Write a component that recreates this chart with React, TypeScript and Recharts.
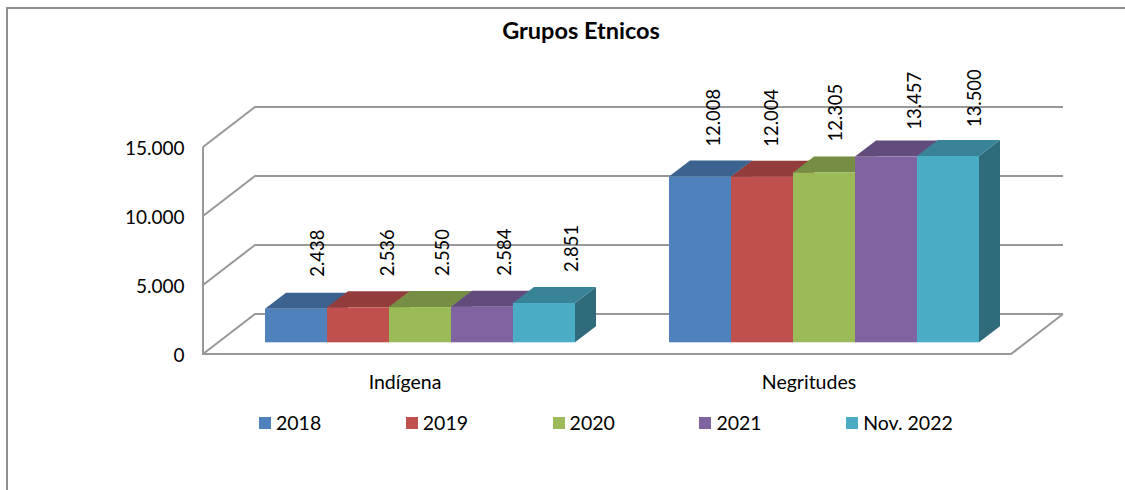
import React from "react";
import { BarChart, Bar, XAxis, YAxis, CartesianGrid, Legend, LabelList } from "recharts";

const categories = ["Indígena", "Negritudes"];
const values2018 = [2438, 12008];
const values2019 = [2536, 12004];
const values2020 = [2550, 12305];
const values2021 = [2584, 13457];
const valuesNov2022 = [2851, 13500];
const seriesNames = ["2018", "2019", "2020", "2021", "Nov. 2022"];
const seriesColors = ["#4F81BD", "#C0504D", "#9BBB59", "#8064A2", "#4BACC6"];
const seriesValues = [values2018, values2019, values2020, values2021, valuesNov2022];
const yTicks = [0, 5000, 10000, 15000];

const rows = categories.map((name, c) => {
  const row: Record<string, string | number> = { name };
  seriesNames.forEach((s, i) => { row[s] = seriesValues[i][c]; });
  return row;
});

// layout of the pseudo-3D projection
const FONT = "Lato, Carlito, sans-serif";
const DEPTH_X = 21;
const DEPTH_Y = 16;
const WALL_FRONT_DX = -15.5;
const WALL_FRONT_DY = 11.7;
const WALL_BACK_DX = 36.5;
const WALL_BACK_DY = -28.3;
const GRID = "#989898";
const LABEL_NUDGE = [[21, 12.5], [29, 9], [22, 11], [22, 28], [27, 26]];
const LABEL_LIFT = [[32, 30], [31, 30], [31, 31], [31, 27], [31, 29]];

const fmt = (v: number) => String(v).replace(/\B(?=(\d{3})+$)/g, ".");

function shade(hex: string, k: number) {
  const n = parseInt(hex.slice(1), 16);
  const c = [(n >> 16) & 255, (n >> 8) & 255, n & 255].map((v) => Math.round(v * k));
  return `rgb(${c[0]},${c[1]},${c[2]})`;
}

function Bar3D(props: any) {
  const { x, y, width, height, fill } = props;
  const r = x + width;
  const b = y + height;
  return (
    <g>
      <polygon points={`${r},${y} ${r + DEPTH_X},${y - DEPTH_Y} ${r + DEPTH_X},${b - DEPTH_Y} ${r},${b}`} fill={shade(fill, 0.62)} />
      <polygon points={`${x},${y} ${x + DEPTH_X},${y - DEPTH_Y} ${r + DEPTH_X},${y - DEPTH_Y} ${r},${y}`} fill={shade(fill, 0.76)} />
      <rect x={x} y={y} width={width} height={height} fill={fill} />
    </g>
  );
}

function WallLine(props: any) {
  const { x1, x2, y1, y, height } = props;
  const isFloor = Math.abs(y1 - (y + height)) < 1;
  const fx = x1 + WALL_FRONT_DX;
  const fy = y1 + WALL_FRONT_DY;
  const bx = x1 + WALL_BACK_DX;
  const by = y1 + WALL_BACK_DY;
  const rx = x2 + WALL_BACK_DX;
  const common = { fill: "none", stroke: GRID, strokeWidth: 2 };
  return (
    <g key={props.key}>
      <polyline points={`${fx},${fy} ${bx},${by} ${rx},${by}`} {...common} />
      {isFloor && (
        <polyline
          points={`${fx},${fy - (y1 - y)} ${fx},${fy} ${x2 + WALL_FRONT_DX},${fy} ${rx},${by}`}
          {...common}
        />
      )}
    </g>
  );
}

function YTick(props: any) {
  const { x, y, payload } = props;
  return (
    <text x={x} y={y + WALL_FRONT_DY} textAnchor="end" dominantBaseline="central" fontFamily={FONT} fontSize={19} fill="#000">
      {fmt(payload.value)}
    </text>
  );
}

function XTick(props: any) {
  const { x, y, payload } = props;
  return (
    <text x={x + WALL_FRONT_DX} y={y + 33} textAnchor="middle" dominantBaseline="central" fontFamily={FONT} fontSize={19.5} fill="#000">
      {payload.value}
    </text>
  );
}

function makeLabel(seriesIndex: number) {
  return function ValueLabel(props: any) {
    const { x, y, width, value, index } = props;
    const lx = x + width / 2 + LABEL_NUDGE[seriesIndex][index];
    const ly = y - LABEL_LIFT[seriesIndex][index];
    return (
      <text transform={`translate(${lx},${ly}) rotate(-90)`} textAnchor="start" dominantBaseline="central" fontFamily={FONT} fontSize={18.4} fill="#000">
        {fmt(value)}
      </text>
    );
  };
}

function LegendBox(props: any) {
  const items = props.payload || [];
  return (
    <div style={{ position: "absolute", left: 0, top: 0, width: 0, height: 0 }}>
      {items.map((it: any, i: number) => (
        <div key={it.value} style={{ position: "absolute", left: 259 + i * 146.8, top: 417, whiteSpace: "nowrap" }}>
          <span style={{ position: "absolute", left: 0, top: 0, width: 12, height: 12, background: it.color }} />
          <span style={{ position: "absolute", left: 17, top: -6, fontFamily: FONT, fontSize: 19.5, lineHeight: "24px", color: "#000" }}>
            {it.value}
          </span>
        </div>
      ))}
    </div>
  );
}

export default function App() {
  return (
    <div style={{ position: "absolute", left: 0, top: 0, width: 1125, height: 490, background: "#fff", overflow: "hidden" }}>
      <div style={{ position: "absolute", left: 6, top: 7, width: 1119, height: 483, borderTop: "2px solid #8e8e8e", borderLeft: "2px solid #8e8e8e", boxSizing: "border-box" }} />
      <div style={{ position: "absolute", left: 0, top: 0 }}>
        <BarChart
          width={1125}
          height={490}
          data={rows}
          barGap={0}
          barCategoryGap={46.5}
          margin={{ top: 135.3, right: 98.5, bottom: 117.7, left: 0 }}
        >
          <CartesianGrid vertical={false} horizontal={WallLine as any} stroke={GRID} />
          <XAxis dataKey="name" axisLine={false} tickLine={false} height={30} tick={XTick as any} tickMargin={0} interval={0} />
          <YAxis domain={[0, 15000]} ticks={yTicks} width={218.5} axisLine={false} tickLine={false} tick={YTick as any} tickMargin={34} tickSize={0} interval={0} />
          <Legend verticalAlign="middle" align="center" layout="horizontal" content={LegendBox as any} wrapperStyle={{ position: "absolute", left: 0, top: 0, width: 0, height: 0 }} />
          {seriesNames.map((s, i) => (
            <Bar key={s} dataKey={s} fill={seriesColors[i]} shape={Bar3D as any} isAnimationActive={false}>
              <LabelList dataKey={s} content={makeLabel(i) as any} />
            </Bar>
          ))}
          <text x={581} y={30} textAnchor="middle" dominantBaseline="central" fontFamily={FONT} fontSize={23.5} fontWeight={700} fill="#000">
            Grupos Etnicos
          </text>
        </BarChart>
      </div>
    </div>
  );
}
